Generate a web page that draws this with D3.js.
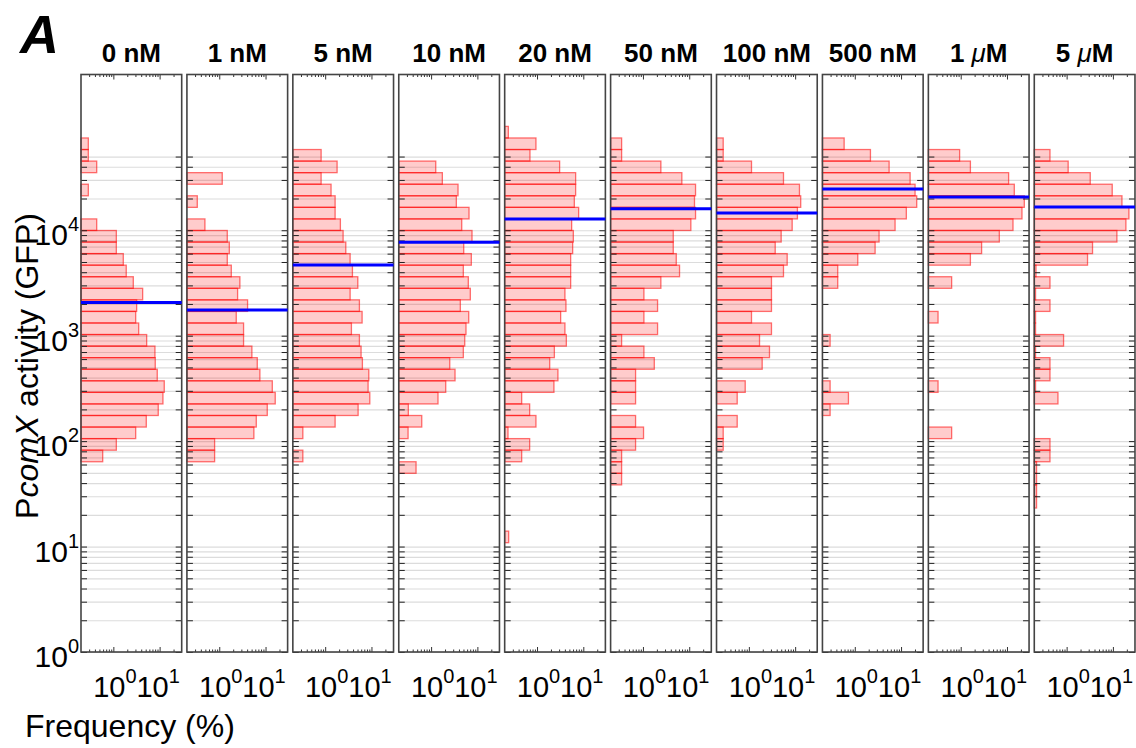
<!DOCTYPE html>
<html><head><meta charset="utf-8">
<script src="https://cdn.jsdelivr.net/npm/d3@7"></script>
<style>
body{margin:0;background:#fff}
svg{display:block}
text{font-family:"Liberation Sans",Arial,Helvetica,sans-serif;fill:#000}
</style>
</head><body>
<svg id="chart" width="1136" height="748"></svg>
<script>
// ---- data ----
const concentrations = ["0 nM","1 nM","5 nM","10 nM","20 nM","50 nM","100 nM","500 nM","1 μM","5 μM"];
// histogram bins: log10 lower edge of bin k = binEdgeLog0 + k*binStepLog, k = binFirstIndex..binFirstIndex+35
const binFirstIndex = 9;
const binEdgeLog0 = 0.0497;
const binStepLog = 0.10967;
// frequency (%) per bin, from lowest GFP bin (k=9) to highest (k=44)
const freq_0nM   = [0,0,0,0,0,0,0, 0.589,1.16,3.04,5.15,9.34,11.8,12.6,8.89,8.05,7.93,5.25,3.53,3.04,3.19,4.30,2.70,1.90,1.64,1.16,1.16,0.437,0,0,0.288,0,0.437,0.288,0.288,0];
const freq_1nM   = [0,0,0,0,0,0,0, 0.793,0.793,5.60,6.31,10.9,16.2,14.0,7.55,6.63,5.07,3.35,3.35,2.33,4.09,2.49,2.79,1.82,1.49,1.65,1.49,0.49,0,0.335,0,1.16,0,0,0,0];
const freq_5nM   = [0,0,0,0,0,0,0, 0.329,0,0.329,1.64,5.15,9.21,8.46,8.76,6.37,5.97,5.49,3.69,6.28,5.49,3.46,5.07,3.88,3.46,2.79,2.44,2.13,1.64,1.64,1.34,0.817,1.81,0.817,0,0];
const freq_10nM  = [0,0,0,0,0,0, 0.473,0,0,0.318,0.628,0.322,1.41,2.07,3.29,2.53,4.97,5.33,5.68,6.50,4.28,7.04,6.37,4.97,7.40,5.07,7.66,4.59,6.60,3.51,3.82,1.75,1.26,0,0,0];
const freq_20nM  = [0.244,0,0,0,0,0,0, 0.466,0.693,0.236,0.948,0.693,0.466,2.32,2.83,1.88,2.37,4.30,4.01,3.24,4.22,4.01,5.33,5.33,5.33,5.89,6.09,5.60,7.93,6.40,6.83,6.83,3.08,0.704,0.948,0.240];
const freq_50nM  = [0,0,0,0,0, 0.346,0.346,0.346,0.693,1.03,0.693,0,0.693,0.693,0.693,1.76,1.05,0.346,2.07,1.05,2.07,1.05,2.44,6.18,5.25,4.52,4.52,10.85,13.7,13.0,13.7,6.93,2.44,0.346,0.346,0];
const freq_100nM = [0,0,0,0,0,0,0,0, 0.279,0.279,0.560,0,0.560,0.834,0,1.94,2.79,1.70,3.08,1.14,3.08,3.08,3.08,5.60,6.73,3.71,4.99,8.63,11.2,13.2,12.4,5.60,1.14,0.279,0.279,0];
const freq_500nM = [0,0,0,0,0,0,0,0,0,0,0, 0.293,0.729,0.293,0,0,0,0.293,0,0,0,0,0.428,0.428,1.16,2.75,3.35,7.43,13.0,21.8,20.1,15.7,5.52,2.18,0.589,0];
const freq_1uM   = [0,0,0,0,0,0,0,0,0, 0.637,0,0,0,0.324,0,0,0,0,0,0.324,0,0,0.637,0,1.62,2.83,6.83,13.5,21.1,23.7,14.4,10.85,1.62,0.948,0,0];
const freq_5uM   = [0,0,0, 0.224,0.224,0.224,0.224,0.437,0.437,0,0,0,0.650,0.213,0.437,0.437,0.213,0.859,0.213,0.213,0.437,0.213,0.437,0.218,2.83,3.63,12.2,19.1,22.2,15.7,9.67,3.24,1.08,0.437,0,0];
// median PcomX activity (GFP) per concentration
const medians = [2060,1750,4690,7700,12800,16000,14550,24550,20700,16580];
const yTickExponents = [0,1,2,3,4];
const xTickExponents = [0,1];
const yMinorMax = 5e4;

const series = [freq_0nM,freq_1nM,freq_5nM,freq_10nM,freq_20nM,freq_50nM,freq_100nM,freq_500nM,freq_1uM,freq_5uM];

// ---- layout ----
const svg = d3.select("#chart");
const plotTop = 74.5, plotBottom = 652;
const panelLeft0 = 81, panelW = 100.7, panelPitch = 105.92;
const y = d3.scaleLog().domain([1, 3e5]).range([plotBottom, plotTop]);
const x = d3.scaleLog().domain([0.2, 30]).range([0, panelW]);

const yTicks = [];
yTickExponents.forEach(e => { for (let m = 1; m <= 9; m++) { const v = m * Math.pow(10, e); if (v <= yMinorMax) yTicks.push(v); } });
const xMajor = xTickExponents.map(e => Math.pow(10, e));
const xMinor = [0.3,0.4,0.5,0.6,0.7,0.8,0.9,2,3,4,5,6,7,8,9,20];

const binLo = k => Math.pow(10, binEdgeLog0 + k * binStepLog);

series.forEach((vals, i) => {
  const g = svg.append("g").attr("transform", `translate(${panelLeft0 + i * panelPitch},0)`);
  // grid
  const grid = g.append("g").call(d3.axisLeft(y).tickValues(yTicks).tickSize(-panelW).tickFormat(""));
  grid.select(".domain").remove();
  grid.selectAll("line").attr("stroke", "#dcdcdc").attr("stroke-width", 1.2);
  // bars
  const data = vals.map((v, j) => ({ k: binFirstIndex + j, v })).filter(d => d.v > 0);
  g.append("g").selectAll("rect").data(data).join("rect")
    .attr("x", 0)
    .attr("y", d => y(binLo(d.k + 1)))
    .attr("width", d => Math.max(0.8, x(Math.max(d.v, 0.2))))
    .attr("height", d => y(binLo(d.k)) - y(binLo(d.k + 1)))
    .attr("fill", "rgba(255,0,0,0.2)")
    .attr("stroke", "rgba(255,0,0,0.55)")
    .attr("stroke-width", 1.3);
  // y ticks inside left and right
  const yl = g.append("g").call(d3.axisLeft(y).tickValues(yTicks).tickSize(-6).tickFormat(""));
  const yr = g.append("g").attr("transform", `translate(${panelW},0)`).call(d3.axisRight(y).tickValues(yTicks).tickSize(-6).tickFormat(""));
  [yl, yr].forEach(a => { a.select(".domain").remove(); a.selectAll("line").attr("stroke", "#222").attr("stroke-width", 1); });
  // x ticks top/bottom
  const mk = (axisFn, ty, vals, len) => {
    const a = g.append("g").attr("transform", `translate(0,${ty})`).call(axisFn(x).tickValues(vals).tickSize(-len).tickFormat(""));
    a.select(".domain").remove();
    a.selectAll("line").attr("stroke", "#333").attr("stroke-width", 1);
  };
  mk(d3.axisBottom, plotBottom, xMinor, 2.5);
  mk(d3.axisBottom, plotBottom, xMajor, 5);
  mk(d3.axisTop, plotTop, xMinor, 2.5);
  mk(d3.axisTop, plotTop, xMajor, 5);
  // frame
  g.append("rect").attr("x", 0).attr("y", plotTop).attr("width", panelW).attr("height", plotBottom - plotTop)
    .attr("fill", "none").attr("stroke", "#444").attr("stroke-width", 1.6);
  // median
  g.append("line").attr("x1", 0).attr("x2", panelW).attr("y1", y(medians[i])).attr("y2", y(medians[i]))
    .attr("stroke", "#0000ff").attr("stroke-width", 3);
  // title
  const t = g.append("text").attr("x", panelW / 2).attr("y", 62).attr("text-anchor", "middle")
    .attr("font-size", 26).attr("font-weight", "bold");
  const parts = concentrations[i].split("μ");
  t.append("tspan").text(parts[0]);
  if (parts.length > 1) {
    t.append("tspan").attr("font-style", "italic").attr("font-weight", "normal").text("μ");
    t.append("tspan").text(parts[1]);
  }
  // x tick labels
  xTickExponents.forEach(e => {
    const tl = g.append("text").attr("x", x(Math.pow(10, e)) + (e === 0 ? 1.5 : -1.5)).attr("y", 697).attr("text-anchor", "middle").attr("font-size", 29);
    tl.append("tspan").text("10");
    tl.append("tspan").attr("dy", -14).attr("font-size", 20).text(e);
  });
});

// y tick labels (first panel)
yTickExponents.forEach(e => {
  const tl = svg.append("text").attr("x", 79).attr("y", y(Math.pow(10, e)) + 15).attr("text-anchor", "end").attr("font-size", 30);
  tl.append("tspan").text("10");
  tl.append("tspan").attr("dy", -14).attr("font-size", 20).text(e);
});

// axis titles
const ylab = svg.append("text").attr("transform", "translate(38,366) rotate(-90)").attr("text-anchor", "middle").attr("font-size", 32);
ylab.append("tspan").text("P");
ylab.append("tspan").attr("font-style", "italic").text("comX");
ylab.append("tspan").text(" activity (GFP)");
svg.append("text").attr("x", 25).attr("y", 737).attr("font-size", 32).text("Frequency (%)");
svg.append("text").attr("x", 20).attr("y", 53).attr("font-size", 54).attr("font-weight", "bold").attr("font-style", "italic").text("A");
</script>
</body></html>
